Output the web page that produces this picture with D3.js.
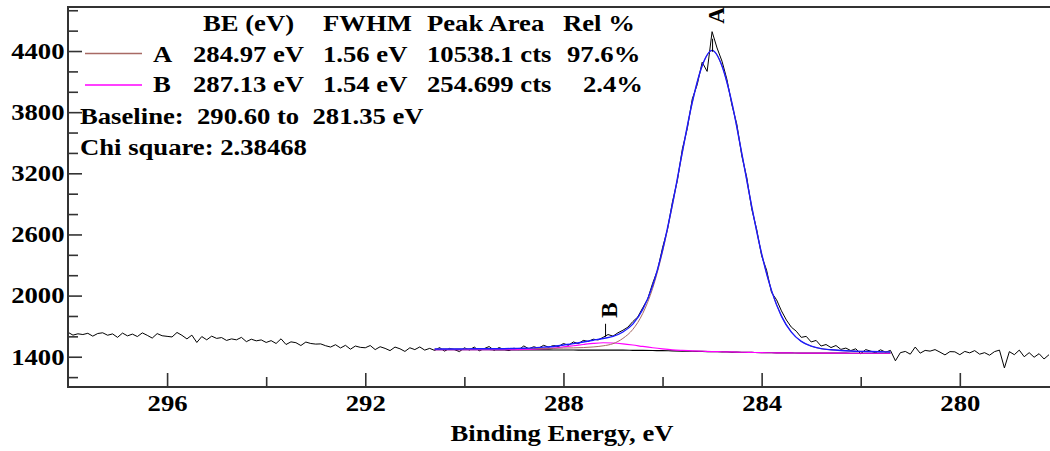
<!DOCTYPE html>
<html><head><meta charset="utf-8">
<script src="https://cdn.jsdelivr.net/npm/d3@7"></script>
<style>body{margin:0;background:#fff}svg{display:block}text{white-space:pre}</style>
</head><body>
<svg id="c" width="1050" height="451"></svg>
<script>
// ---------- DATA ----------
const rawEnergy = [298.0,297.9,297.8,297.7,297.6,297.5,297.4,297.3,297.2,297.1,
297.0,296.9,296.8,296.7,296.6,296.5,296.4,296.3,296.2,296.1,
296.0,295.9,295.8,295.7,295.6,295.5,295.4,295.3,295.2,295.1,
295.0,294.9,294.8,294.7,294.6,294.5,294.4,294.3,294.2,294.1,
294.0,293.9,293.8,293.7,293.6,293.5,293.4,293.3,293.2,293.1,
293.0,292.9,292.8,292.7,292.6,292.5,292.4,292.3,292.2,292.1,
292.0,291.9,291.8,291.7,291.6,291.5,291.4,291.3,291.2,291.1,
291.0,290.9,290.8,290.7,290.6,290.5,290.4,290.3,290.2,290.1,
290.0,289.9,289.8,289.7,289.6,289.5,289.4,289.3,289.2,289.1,
289.0,288.9,288.8,288.7,288.6,288.5,288.4,288.3,288.2,288.1,
288.0,287.9,287.8,287.7,287.6,287.5,287.4,287.3,287.2,287.1,
287.0,286.9,286.8,286.7,286.6,286.5,286.4,286.3,286.2,286.1,
286.0,285.9,285.8,285.7,285.6,285.5,285.4,285.3,285.2,285.1,
285.0,284.9,284.8,284.7,284.6,284.5,284.4,284.3,284.2,284.1,
284.0,283.9,283.8,283.7,283.6,283.5,283.4,283.3,283.2,283.1,
283.0,282.9,282.8,282.7,282.6,282.5,282.4,282.3,282.2,282.1,
282.0,281.9,281.8,281.7,281.6,281.5,281.4,281.3,281.2,281.1,
281.0,280.9,280.8,280.7,280.6,280.5,280.4,280.3,280.2,280.1,
280.0,279.9,279.8,279.7,279.6,279.5,279.4,279.3,279.2,279.1,
279.0,278.9,278.8,278.7,278.6,278.5,278.4,278.3,278.2];

const rawCounts = [1640,1612,1625,1618,1630,1602,1628,1635,1611,1624,
1590,1632,1605,1622,1598,1634,1610,1583,1627,1606,
1600,1594,1638,1610,1575,1612,1540,1598,1566,1602,
1580,1588,1560,1575,1566,1590,1548,1572,1556,1565,
1540,1558,1530,1576,1520,1546,1538,1510,1544,1530,
1524,1526,1508,1495,1518,1486,1512,1474,1505,1492,
1488,1510,1470,1498,1482,1460,1495,1478,1452,1488,
1470,1496,1465,1482,1462,1490,1455,1482,1470,1450,
1488,1466,1495,1458,1480,1500,1463,1490,1472,1460,
1484,1470,1506,1478,1498,1485,1512,1494,1510,1500,
1530,1512,1545,1528,1560,1550,1572,1565,1590,1618,
1602,1635,1660,1690,1745,1790,1880,1965,2120,2250,
2470,2650,2920,3130,3440,3640,3930,4070,4290,4200,
4590,4430,4300,4120,3870,3680,3370,3160,2850,2650,
2390,2250,2030,1960,1850,1760,1690,1650,1590,1600,
1545,1560,1505,1520,1490,1510,1472,1485,1460,1478,
1430,1470,1455,1440,1468,1445,1462,1360,1440,1452,
1425,1495,1435,1462,1455,1470,1445,1418,1450,1448,
1420,1452,1438,1460,1425,1440,1415,1450,1465,1290,
1450,1420,1465,1400,1440,1395,1430,1378,1420];

const fitEnergy = [290.6,290.4,290.2,290.0,289.8,289.6,289.4,289.2,289.0,288.8,
288.6,288.4,288.2,288.0,287.8,287.6,287.4,287.2,287.0,286.8,
286.6,286.4,286.2,286.0,285.8,285.6,285.4,285.2,285.0,284.8,
284.6,284.4,284.2,284.0,283.8,283.6,283.4,283.2,283.0,282.8,
282.6,282.4,282.2,282.0,281.8,281.6,281.4];

const fitBaseline = [1470,1470,1470,1469,1469,1469,1468,1468,1468,1467,
1467,1467,1466,1466,1466,1465,1465,1465,1464,1464,
1463,1462,1461,1460,1458,1456,1454,1452,1450,1448,
1446,1444,1442,1440,1439,1438,1437,1436,1436,1435,
1435,1435,1434,1434,1434,1434,1434];

const fitPeakA = [1476,1476,1476,1476,1477,1477,1477,1478,1479,1479,
1480,1482,1482,1485,1487,1490,1496,1507,1528,1580,
1668,1824,2071,2430,2888,3404,3894,4254,4405,4252,
3890,3394,2874,2410,2049,1799,1642,1551,1504,1479,
1468,1461,1456,1453,1451,1449,1447];

const fitPeakB = [1470,1470,1470,1470,1470,1470,1469,1469,1470,1471,
1474,1479,1485,1496,1508,1520,1531,1537,1535,1527,
1515,1501,1488,1477,1468,1462,1457,1454,1451,1449,
1447,1444,1442,1440,1439,1438,1437,1436,1436,1435,
1435,1435,1434,1434,1434,1434,1434];

const fitEnvelope = [1476,1476,1476,1477,1478,1478,1478,1479,1481,1483,
1487,1494,1501,1515,1529,1545,1562,1579,1599,1643,
1720,1863,2098,2447,2898,3410,3897,4256,4406,4253,
3891,3394,2874,2410,2049,1799,1642,1551,1504,1479,
1468,1461,1456,1453,1451,1449,1447];

const peakNames = ["A", "B"];
const peakCenters = [284.97, 287.13];
const legendHeader = ["BE (eV)", "FWHM", "Peak Area", "Rel %"];
const legendRowA = ["A", "284.97 eV", "1.56 eV", "10538.1 cts", "97.6%"];
const legendRowB = ["B", "287.13 eV", "1.54 eV", "254.699 cts", "2.4%"];
const baselineText = "Baseline:  290.60 to  281.35 eV";
const chiText = "Chi square: 2.38468";
const xMajorTicks = [296, 292, 288, 284, 280];
const xMinorTicks = [294, 290, 286, 282];
const yMajorTicks = [1400, 2000, 2600, 3200, 3800, 4400];
const yMinorTicks = [1200, 1600, 1800, 2200, 2400, 2800, 3000, 3400, 3600, 4000, 4200, 4600, 4800];
const xTitle = "Binding Energy, eV";

// ---------- DRAW ----------
const SX = 1.16;
const svg = d3.select("#c");
const L = 68, R = 1049, T = 7, B = 387;
const x = d3.scaleLinear().domain([298, 278.2]).range([L, R]);
const y = d3.scaleLinear().domain([1103, 4832]).range([B, T]);
const font = (sel) => sel.style("font-family", "'Liberation Serif', 'Times New Roman', serif")
  .style("font-weight", "bold").style("font-size", "23px").attr("fill", "#000");

svg.append("defs").append("clipPath").attr("id", "clip")
  .append("rect").attr("x", L + 1).attr("y", T + 1).attr("width", 1050 - L).attr("height", B - T - 2);

const plot = svg.append("g").attr("clip-path", "url(#clip)");

const line = d3.line().x(d => x(d[0])).y(d => y(d[1]));
const smooth = d3.line().x(d => x(d[0])).y(d => y(d[1])).curve(d3.curveMonotoneX);

plot.append("path").datum(d3.zip(rawEnergy, rawCounts))
  .attr("d", line).attr("fill", "none").attr("stroke", "#000").attr("stroke-width", 1);
plot.append("path").datum(d3.zip(fitEnergy, fitBaseline))
  .attr("d", smooth).attr("fill", "none").attr("stroke", "#000").attr("stroke-width", 1.2);
plot.append("path").datum(d3.zip(fitEnergy, fitPeakB))
  .attr("d", smooth).attr("fill", "none").attr("stroke", "#ff00ff").attr("stroke-width", 1.2);
plot.append("path").datum(d3.zip(fitEnergy, fitPeakA))
  .attr("d", smooth).attr("fill", "none").attr("stroke", "#a86a64").attr("stroke-width", 1);
plot.append("path").datum(d3.zip(fitEnergy, fitEnvelope))
  .attr("d", smooth).attr("fill", "none").attr("stroke", "#1a1aff").attr("stroke-width", 1.4);

// axes
const gx = svg.append("g").attr("transform", `translate(0,${B})`)
  .call(d3.axisBottom(x).tickValues(xMajorTicks).tickSize(-14).tickSizeOuter(0).tickPadding(8).tickFormat(d3.format("d")));
const gxm = svg.append("g").attr("transform", `translate(0,${B})`)
  .call(d3.axisBottom(x).tickValues(xMinorTicks).tickSize(-10).tickSizeOuter(0).tickFormat(""));
const gy = svg.append("g").attr("transform", `translate(${L},0)`)
  .call(d3.axisLeft(y).tickValues(yMajorTicks).tickSize(-14).tickSizeOuter(0).tickPadding(3).tickFormat(d3.format("d")));
const gym = svg.append("g").attr("transform", `translate(${L},0)`)
  .call(d3.axisLeft(y).tickValues(yMinorTicks).tickSize(-10).tickSizeOuter(0).tickFormat(""));
[gx, gxm, gy, gym].forEach(g => {
  g.select(".domain").remove();
  g.selectAll("line").attr("stroke", "#333").attr("stroke-width", 1.6);
  g.selectAll("text").call(font).attr("transform", `scale(${SX},1)`);
});
svg.append("line").attr("x1", L).attr("x2", 1050).attr("y1", B).attr("y2", B).attr("stroke", "#333").attr("stroke-width", 2);
svg.append("line").attr("x1", L).attr("x2", 1050).attr("y1", T).attr("y2", T).attr("stroke", "#333").attr("stroke-width", 2);
svg.append("line").attr("x1", L).attr("x2", L).attr("y1", T - 1).attr("y2", B + 1).attr("stroke", "#333").attr("stroke-width", 2);

function txt(xp, yp, s, anchor) {
  svg.append("text").attr("transform", `translate(${xp},${yp}) scale(${SX},1)`)
    .attr("text-anchor", anchor || "start").call(font).text(s);
}
txt(562, 441, xTitle, "middle");

// legend
const colX = [203, 323, 427, 563];
legendHeader.forEach((s, i) => txt(colX[i], 31, s));
const rowX = [153, 193, 323, 427];
legendRowA.forEach((s, i) => { if (i < 4) txt(rowX[i], 62, s); });
txt(567, 62, legendRowA[4]);
legendRowB.forEach((s, i) => { if (i < 4) txt(rowX[i], 92, s); });
txt(583, 92, legendRowB[4]);
svg.append("line").attr("x1", 85).attr("x2", 142).attr("y1", 53.5).attr("y2", 53.5).attr("stroke", "#a86a64").attr("stroke-width", 1.5);
svg.append("line").attr("x1", 85).attr("x2", 142).attr("y1", 85).attr("y2", 85).attr("stroke", "#ff00ff").attr("stroke-width", 1.5);
txt(80, 124, baselineText);
txt(80, 155, chiText);

// peak labels
const envInterp = (e) => {
  for (let i = 0; i < fitEnergy.length - 1; i++) {
    const a = fitEnergy[i], b = fitEnergy[i + 1];
    if (e <= a && e >= b) { const t = (a - e) / (a - b); return fitEnvelope[i] + t * (fitEnvelope[i + 1] - fitEnvelope[i]); }
  }
  return fitEnvelope[0];
};
peakNames.forEach((name, i) => {
  const c = peakCenters[i];
  const cx = x(c);
  const yEnv = y(envInterp(c));
  const localMax = d3.max(rawEnergy.map((e, k) => Math.abs(e - c) <= 0.1 ? rawCounts[k] : -Infinity));
  const tickTop = yEnv - 14;
  svg.append("line").attr("x1", cx - 1).attr("x2", cx - 1).attr("y1", yEnv - 1).attr("y2", tickTop).attr("stroke", "#000").attr("stroke-width", 1);
  const bottom = Math.max(T + 16, Math.min(tickTop - 6, y(localMax) - 8));
  svg.append("text").attr("transform", `translate(${cx + 10},${bottom}) rotate(-90)`)
    .attr("text-anchor", "start").call(font).text(name);
});
</script></body></html>
